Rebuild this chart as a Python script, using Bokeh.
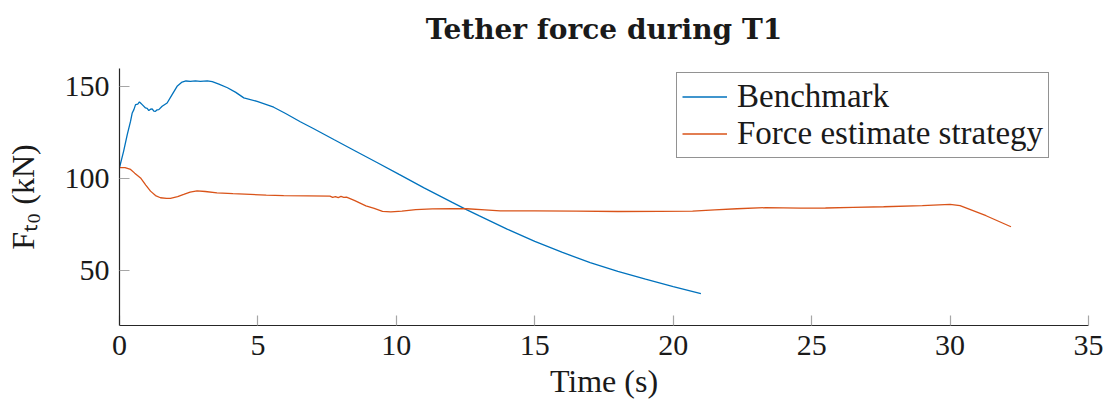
from bokeh.embed import file_html
from bokeh.models import Legend, LegendItem, LinearAxis, Range1d, FixedTicker
from bokeh.plotting import figure
from bokeh.resources import INLINE

# ---- data -----------------------------------------------------------------
benchmark_t = [0.0, 0.15, 0.28, 0.4, 0.46, 0.52, 0.58, 0.66, 0.72, 0.76, 0.82,
               0.94, 1.0, 1.06, 1.12, 1.18, 1.24, 1.3, 1.36, 1.42, 1.54, 1.72,
               1.9, 2.08, 2.26, 2.4, 2.56, 2.74, 2.92, 3.17, 3.35, 3.59, 3.9,
               4.2, 4.49, 4.97, 5.57, 6.0, 6.53, 7.0, 7.74, 8.5, 9.3, 10.1,
               11.0, 12.0, 12.55, 13.0, 14.0, 15.0, 16.0, 17.0, 18.0, 19.0,
               20.0, 21.0]
benchmark_f = [106.0, 115.0, 124.0, 131.3, 135.8, 137.6, 140.3, 140.6, 141.8,
               141.2, 140.3, 138.5, 138.3, 137.1, 137.8, 138.0, 136.8, 136.7,
               137.5, 137.6, 139.4, 141.2, 145.8, 150.3, 152.6, 153.2, 153.0,
               153.3, 153.0, 153.3, 152.8, 151.5, 149.5, 147.0, 144.0, 142.1,
               138.9, 135.5, 131.0, 127.3, 121.3, 115.2, 108.8, 102.3, 95.0,
               87.2, 83.0, 79.7, 72.5, 65.8, 59.8, 54.3, 49.5, 45.2, 41.2, 37.3]

estimate_t = [0.0, 0.2, 0.4, 0.55, 0.76, 0.95, 1.12, 1.3, 1.48, 1.7, 1.84, 2.1,
              2.32, 2.55, 2.8, 3.1, 3.52, 4.1, 4.73, 5.3, 5.93, 6.8, 7.6, 7.7,
              7.8, 7.9, 8.0, 8.1, 8.2, 8.5, 8.9, 9.2, 9.5, 9.8, 10.2, 10.7,
              11.3, 12.0, 12.55, 13.2, 13.75, 15.0, 16.5, 18.0, 19.5, 20.7,
              21.5, 22.3, 23.35, 24.6, 25.5, 26.5, 27.6, 29.0, 30.0, 30.36,
              31.3, 32.2]
estimate_f = [106.0, 106.0, 105.0, 103.0, 100.4, 96.5, 93.2, 90.8, 89.6, 89.2,
              89.3, 90.2, 91.4, 92.7, 93.3, 93.0, 92.3, 91.8, 91.4, 91.0, 90.7,
              90.6, 90.5, 89.8, 90.2, 89.7, 90.3, 89.8, 89.9, 88.0, 85.2, 83.8,
              82.2, 81.9, 82.3, 83.1, 83.5, 83.7, 83.6, 83.0, 82.4, 82.4, 82.3,
              82.1, 82.2, 82.3, 83.0, 83.6, 84.2, 83.9, 84.0, 84.4, 84.7, 85.3,
              86.0, 85.3, 79.8, 73.8]

x_ticks = [0, 5, 10, 15, 20, 25, 30, 35]
y_ticks = [50, 100, 150]
series_names = ["Benchmark", "Force estimate strategy"]

# ---- layout ---------------------------------------------------------------
W, H = 1108, 409
LEFT, RIGHT, TOP, BOTTOM = 119, 20, 68, 84

BLUE = "#0072BD"
ORANGE = "#D95319"
SERIF = "Liberation Serif"
INK = "#1a1a1a"

p = figure(width=W, height=H, output_backend="svg", toolbar_location=None,
           x_range=Range1d(0, 35), y_range=Range1d(20, 160),
           min_border_left=LEFT, min_border_right=RIGHT,
           min_border_top=TOP, min_border_bottom=BOTTOM,
           title="Tether force during T1")
p.outline_line_color = None
p.grid.visible = False
p.background_fill_color = "white"
p.border_fill_color = "white"

x_axis = p.below[0]
y_axis = p.left[0]

p.title.align = "center"
p.title.text_font = "DejaVu Serif"
p.title.text_font_size = "28px"
p.title.text_font_style = "bold"
p.title.text_color = INK
p.title.standoff = 0

# white, unlabelled axis above the frame: keeps a gap between title and plot
gap_axis = LinearAxis(ticker=FixedTicker(ticks=[0]), axis_line_color=None,
                      major_tick_in=0, major_tick_out=23,
                      major_tick_line_color="white",
                      minor_tick_line_color=None,
                      major_label_standoff=0,
                      major_label_text_font_size="1px",
                      major_label_overrides={0: ""})
p.add_layout(gap_axis, "above")

for ax in (x_axis, y_axis):
    ax.axis_line_color = "#262626"
    ax.axis_line_width = 1.2
    ax.major_tick_in = 10
    ax.major_tick_out = 0
    ax.major_tick_line_color = "#a6a6a6"
    ax.major_tick_line_width = 1.2
    ax.minor_tick_line_color = None
    ax.major_label_text_font = SERIF
    ax.major_label_text_font_size = "30px"
    ax.major_label_text_color = INK
    ax.axis_label_text_font = SERIF
    ax.axis_label_text_font_size = "32px"
    ax.axis_label_text_font_style = "normal"
    ax.axis_label_text_color = INK

x_axis.ticker = FixedTicker(ticks=x_ticks)
y_axis.ticker = FixedTicker(ticks=y_ticks)
x_axis.major_label_standoff = 10
y_axis.major_label_standoff = 10

x_axis.axis_label = "Time (s)"
x_axis.axis_label_standoff = 5
y_axis.axis_label = "F\u209c\u2080 (kN)"
y_axis.axis_label_standoff = 21

r_bench = p.line(benchmark_t, benchmark_f, line_color=BLUE, line_width=1.3)
r_est = p.line(estimate_t, estimate_f, line_color=ORANGE, line_width=1.3)

# ---- legend ---------------------------------------------------------------
legend = Legend(
    items=[LegendItem(label=series_names[0], renderers=[r_bench]),
           LegendItem(label=series_names[1], renderers=[r_est])],
    location=(557, 167),
    border_line_color="#262626", border_line_width=1.2,
    background_fill_color="white", background_fill_alpha=1.0,
    padding=5, spacing=0, margin=0,
    glyph_width=45, glyph_height=37, label_height=37, label_standoff=10,
    label_text_font=SERIF, label_text_font_size="33px",
    label_text_color=INK,
)
p.add_layout(legend, "center")

open("out.html", "w").write(file_html(p, INLINE))
